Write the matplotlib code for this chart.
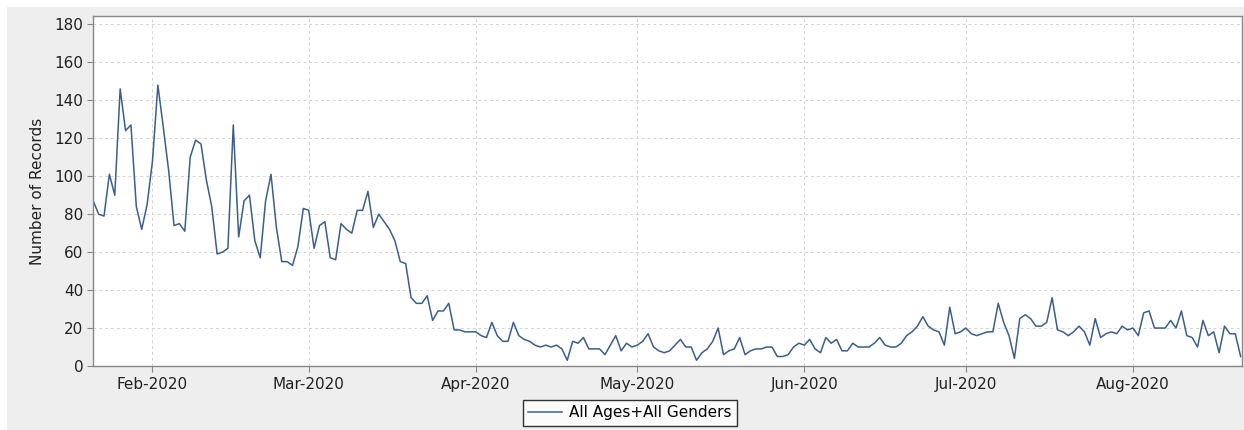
import numpy as np
import pandas as pd
import matplotlib
matplotlib.use("Agg")
import matplotlib.pyplot as plt
import matplotlib.dates as mdates
from matplotlib.patches import Rectangle

# daily counts, starting 21 Jan 2020
start_date = "2020-01-21"
records = [
    87, 80, 79, 101, 90, 146, 124, 127, 84, 72,
    85, 108, 148, 126, 103, 74, 75, 71, 110, 119,
    117, 98, 84, 59, 60, 62, 127, 68, 87, 90,
    66, 57, 87, 101, 73, 55, 55, 53, 63, 83,
    82, 62, 74, 76, 57, 56, 75, 72, 70, 82,
    82, 92, 73, 80, 76, 72, 66, 55, 54, 36,
    33, 33, 37, 24, 29, 29, 33, 19, 19, 18,
    18, 18, 16, 15, 23, 16, 13, 13, 23, 16,
    14, 13, 11, 10, 11, 10, 11, 9, 3, 13,
    12, 15, 9, 9, 9, 6, 11, 16, 8, 12,
    10, 11, 13, 17, 10, 8, 7, 8, 11, 14,
    10, 10, 3, 7, 9, 13, 20, 6, 8, 9,
    15, 6, 8, 9, 9, 10, 10, 5, 5, 6,
    10, 12, 11, 14, 9, 7, 15, 12, 14, 8,
    8, 12, 10, 10, 10, 12, 15, 11, 10, 10,
    12, 16, 18, 21, 26, 21, 19, 18, 11, 31,
    17, 18, 20, 17, 16, 17, 18, 18, 33, 23,
    16, 4, 25, 27, 25, 21, 21, 23, 36, 19,
    18, 16, 18, 21, 18, 11, 25, 15, 17, 18,
    17, 21, 19, 20, 16, 28, 29, 20, 20, 20,
    24, 20, 29, 16, 15, 10, 24, 16, 18, 7,
    21, 17, 17, 5,
]
series_label = "All Ages+All Genders"
y_label = "Number of Records"
y_ticks = [0, 20, 40, 60, 80, 100, 120, 140, 160, 180]

dates = pd.date_range(start_date, periods=len(records), freq="D")

fig = plt.figure(figsize=(12.44, 4.30), dpi=100)
fig.patch.set_facecolor("white")
# grey chart panel behind everything
fig.patches.append(Rectangle((7 / 1244, 0), 1 - 7 / 1244, 1 - 7 / 430,
                             transform=fig.transFigure, facecolor="#eeeeee",
                             edgecolor="none", zorder=-10))

ax = fig.add_axes([93 / 1244, (430 - 366) / 430, (1242 - 93) / 1244, (366 - 16) / 430])
ax.set_facecolor("white")

ax.plot(dates, records, color="#3b5e8c", lw=1.1, label=series_label)

ax.set_xlim(dates[0] - pd.Timedelta(hours=1), dates[-1] + pd.Timedelta(hours=6))
ax.set_ylim(0, 184.4)
ax.set_yticks(y_ticks)

ax.xaxis.set_major_locator(mdates.MonthLocator())
ax.xaxis.set_major_formatter(mdates.DateFormatter("%b-%Y"))

ax.grid(True, color="#d4d4d4", linestyle=(0, (3, 3)), lw=0.7)
ax.set_axisbelow(True)
for s in ax.spines.values():
    s.set_color("#888888")
    s.set_linewidth(1.0)
ax.tick_params(axis="both", direction="out", length=4, width=0.8,
               color="#888888", labelsize=11, labelcolor="#222222")
ax.tick_params(axis="x", pad=4)
ax.tick_params(axis="y", pad=3)

ax.set_ylabel(y_label, fontsize=11, color="#222222", labelpad=7)

leg = ax.legend(loc="center", bbox_to_anchor=(630 / 1244, (430 - 413) / 430),
                bbox_transform=fig.transFigure, frameon=True, fancybox=False,
                fontsize=11, handlelength=2.2, handletextpad=0.5,
                borderpad=0.35, borderaxespad=0)
leg.get_frame().set_edgecolor("black")
leg.get_frame().set_linewidth(1.0)
leg.get_frame().set_facecolor("white")

fig.savefig("out.png", dpi=100, facecolor=fig.get_facecolor())
